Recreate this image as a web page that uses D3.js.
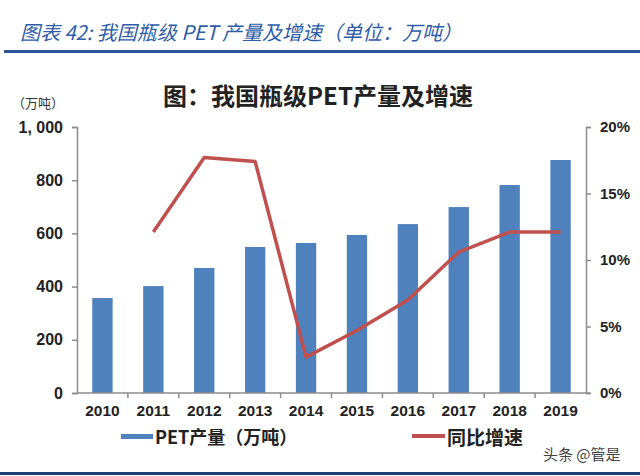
<!DOCTYPE html>
<html>
<head>
<meta charset="utf-8">
<script src="https://cdn.jsdelivr.net/npm/d3@7"></script>
<style>
  html, body { margin: 0; padding: 0; background: #fff; }
  svg { display: block; }
</style>
</head>
<body>
<script>
// ---- data ----
const years = ["2010","2011","2012","2013","2014","2015","2016","2017","2018","2019"];
const output = [357, 402, 470, 549, 564, 594, 635, 699, 782, 876];          // 万吨
const growth = [null, 12.1, 17.7, 17.4, 2.7, 4.7, 7.0, 10.6, 12.1, 12.1];   // %
const leftTicks = [0, 200, 400, 600, 800, 1000];
const rightTicks = [0, 5, 10, 15, 20];

(function () {
const W = 640, H = 476;
const barColor = "#4F81BD", lineColor = "#C0504D", axisColor = "#8c8c8c";
const numFont = "'Liberation Sans', Arial, sans-serif";
const cjkFont = "'Noto Sans CJK SC', 'Liberation Sans', sans-serif";

const svg = d3.select("body").append("svg").attr("width", W).attr("height", H);

// header
svg.append("text").attr("x", 20).attr("y", 40)
  .attr("font-family", cjkFont).attr("font-size", 20).attr("font-style", "italic")
  .attr("fill", "#2F5DA8")
  .text("图表 42:  我国瓶级 PET 产量及增速（单位：万吨）");
svg.append("rect").attr("x", 4).attr("y", 50).attr("width", W - 4).attr("height", 3).attr("fill", "#2B5597");
svg.append("rect").attr("x", 0).attr("y", 472).attr("width", W).attr("height", 3).attr("fill", "#1F3F77");

// chart title
svg.append("text").attr("x", 318).attr("y", 105).attr("text-anchor", "middle")
  .attr("font-family", cjkFont).attr("font-size", 24).attr("font-weight", "bold")
  .attr("fill", "#222").text("图：我国瓶级PET产量及增速");

// scales
const pLeft = 77, pRight = 586, pTop = 127, pBottom = 393;
const x = d3.scaleBand().domain(years).range([pLeft, pRight]).paddingInner(0.6).paddingOuter(0.3);
const yL = d3.scaleLinear().domain([0, 1000]).range([pBottom, pTop]);
const yR = d3.scaleLinear().domain([0, 20]).range([pBottom, pTop]);
const step = x.step();

// bars
svg.append("g").selectAll("rect").data(years).join("rect")
  .attr("x", d => x(d)).attr("width", x.bandwidth())
  .attr("y", (d, i) => yL(output[i])).attr("height", (d, i) => pBottom - yL(output[i]))
  .attr("fill", barColor);

// left axis
const gL = svg.append("g").attr("transform", `translate(${pLeft},0)`)
  .call(d3.axisLeft(yL).tickValues(leftTicks).tickSize(5).tickPadding(9)
    .tickFormat(d => d3.format(",")(d).replace(",", ", ")));
gL.select(".domain").attr("stroke", axisColor).attr("stroke-width", 1.5);
gL.selectAll(".tick line").attr("stroke", axisColor).attr("stroke-width", 1.5);
gL.selectAll("text").attr("font-family", numFont).attr("font-size", 16).attr("font-weight", "bold").attr("fill", "#222");

// right axis
const gR = svg.append("g").attr("transform", `translate(${pRight},0)`)
  .call(d3.axisRight(yR).tickValues(rightTicks).tickSize(5).tickPadding(9).tickFormat(d => d + "%"));
gR.select(".domain").attr("stroke", axisColor).attr("stroke-width", 1.5);
gR.selectAll(".tick line").attr("stroke", axisColor).attr("stroke-width", 1.5);
gR.selectAll("text").attr("font-family", numFont).attr("font-size", 15).attr("font-weight", "bold").attr("fill", "#222");

// x axis
const gX = svg.append("g").attr("transform", `translate(0,${pBottom})`)
  .call(d3.axisBottom(x).tickSize(0).tickPadding(12));
gX.select(".domain").attr("stroke", axisColor).attr("stroke-width", 1.5)
  .attr("d", `M${pLeft},0H${pRight + 4}`);
gX.selectAll("text").attr("font-family", numFont).attr("font-size", 15.5).attr("font-weight", "bold").attr("fill", "#222");
const boundaries = years.slice(1).map(d => x(d) + x.bandwidth() / 2 - step / 2);
gX.selectAll("line.b").data(boundaries).join("line").attr("class", "b")
  .attr("x1", d => d).attr("x2", d => d).attr("y1", 0).attr("y2", 5)
  .attr("stroke", axisColor).attr("stroke-width", 1.5);

// unit label
svg.append("text").attr("x", 12).attr("y", 108)
  .attr("font-family", cjkFont).attr("font-size", 13).attr("fill", "#333").text("（万吨）");

// line
const line = d3.line()
  .defined(d => d[1] != null)
  .x(d => x(d[0]) + x.bandwidth() / 2)
  .y(d => yR(d[1]));
svg.append("path").datum(years.map((d, i) => [d, growth[i]]))
  .attr("d", line).attr("fill", "none").attr("stroke", lineColor)
  .attr("stroke-width", 3.5).attr("stroke-linejoin", "round");

// legend
const lg = svg.append("g");
lg.append("rect").attr("x", 121).attr("y", 434).attr("width", 32).attr("height", 5).attr("fill", barColor);
lg.append("text").attr("x", 155).attr("y", 444).attr("font-family", cjkFont).attr("font-size", 18)
  .attr("font-weight", "bold").attr("fill", "#222").text("PET产量（万吨）");
lg.append("rect").attr("x", 412).attr("y", 434).attr("width", 33).attr("height", 4).attr("fill", lineColor);
lg.append("text").attr("x", 447).attr("y", 445).attr("font-family", cjkFont).attr("font-size", 19)
  .attr("font-weight", "bold").attr("fill", "#222").text("同比增速");

// watermark
svg.append("text").attr("x", 543).attr("y", 460).attr("font-family", cjkFont).attr("font-size", 15)
  .attr("fill", "#444").text("头条 @管是");
})();
</script>
</body>
</html>
